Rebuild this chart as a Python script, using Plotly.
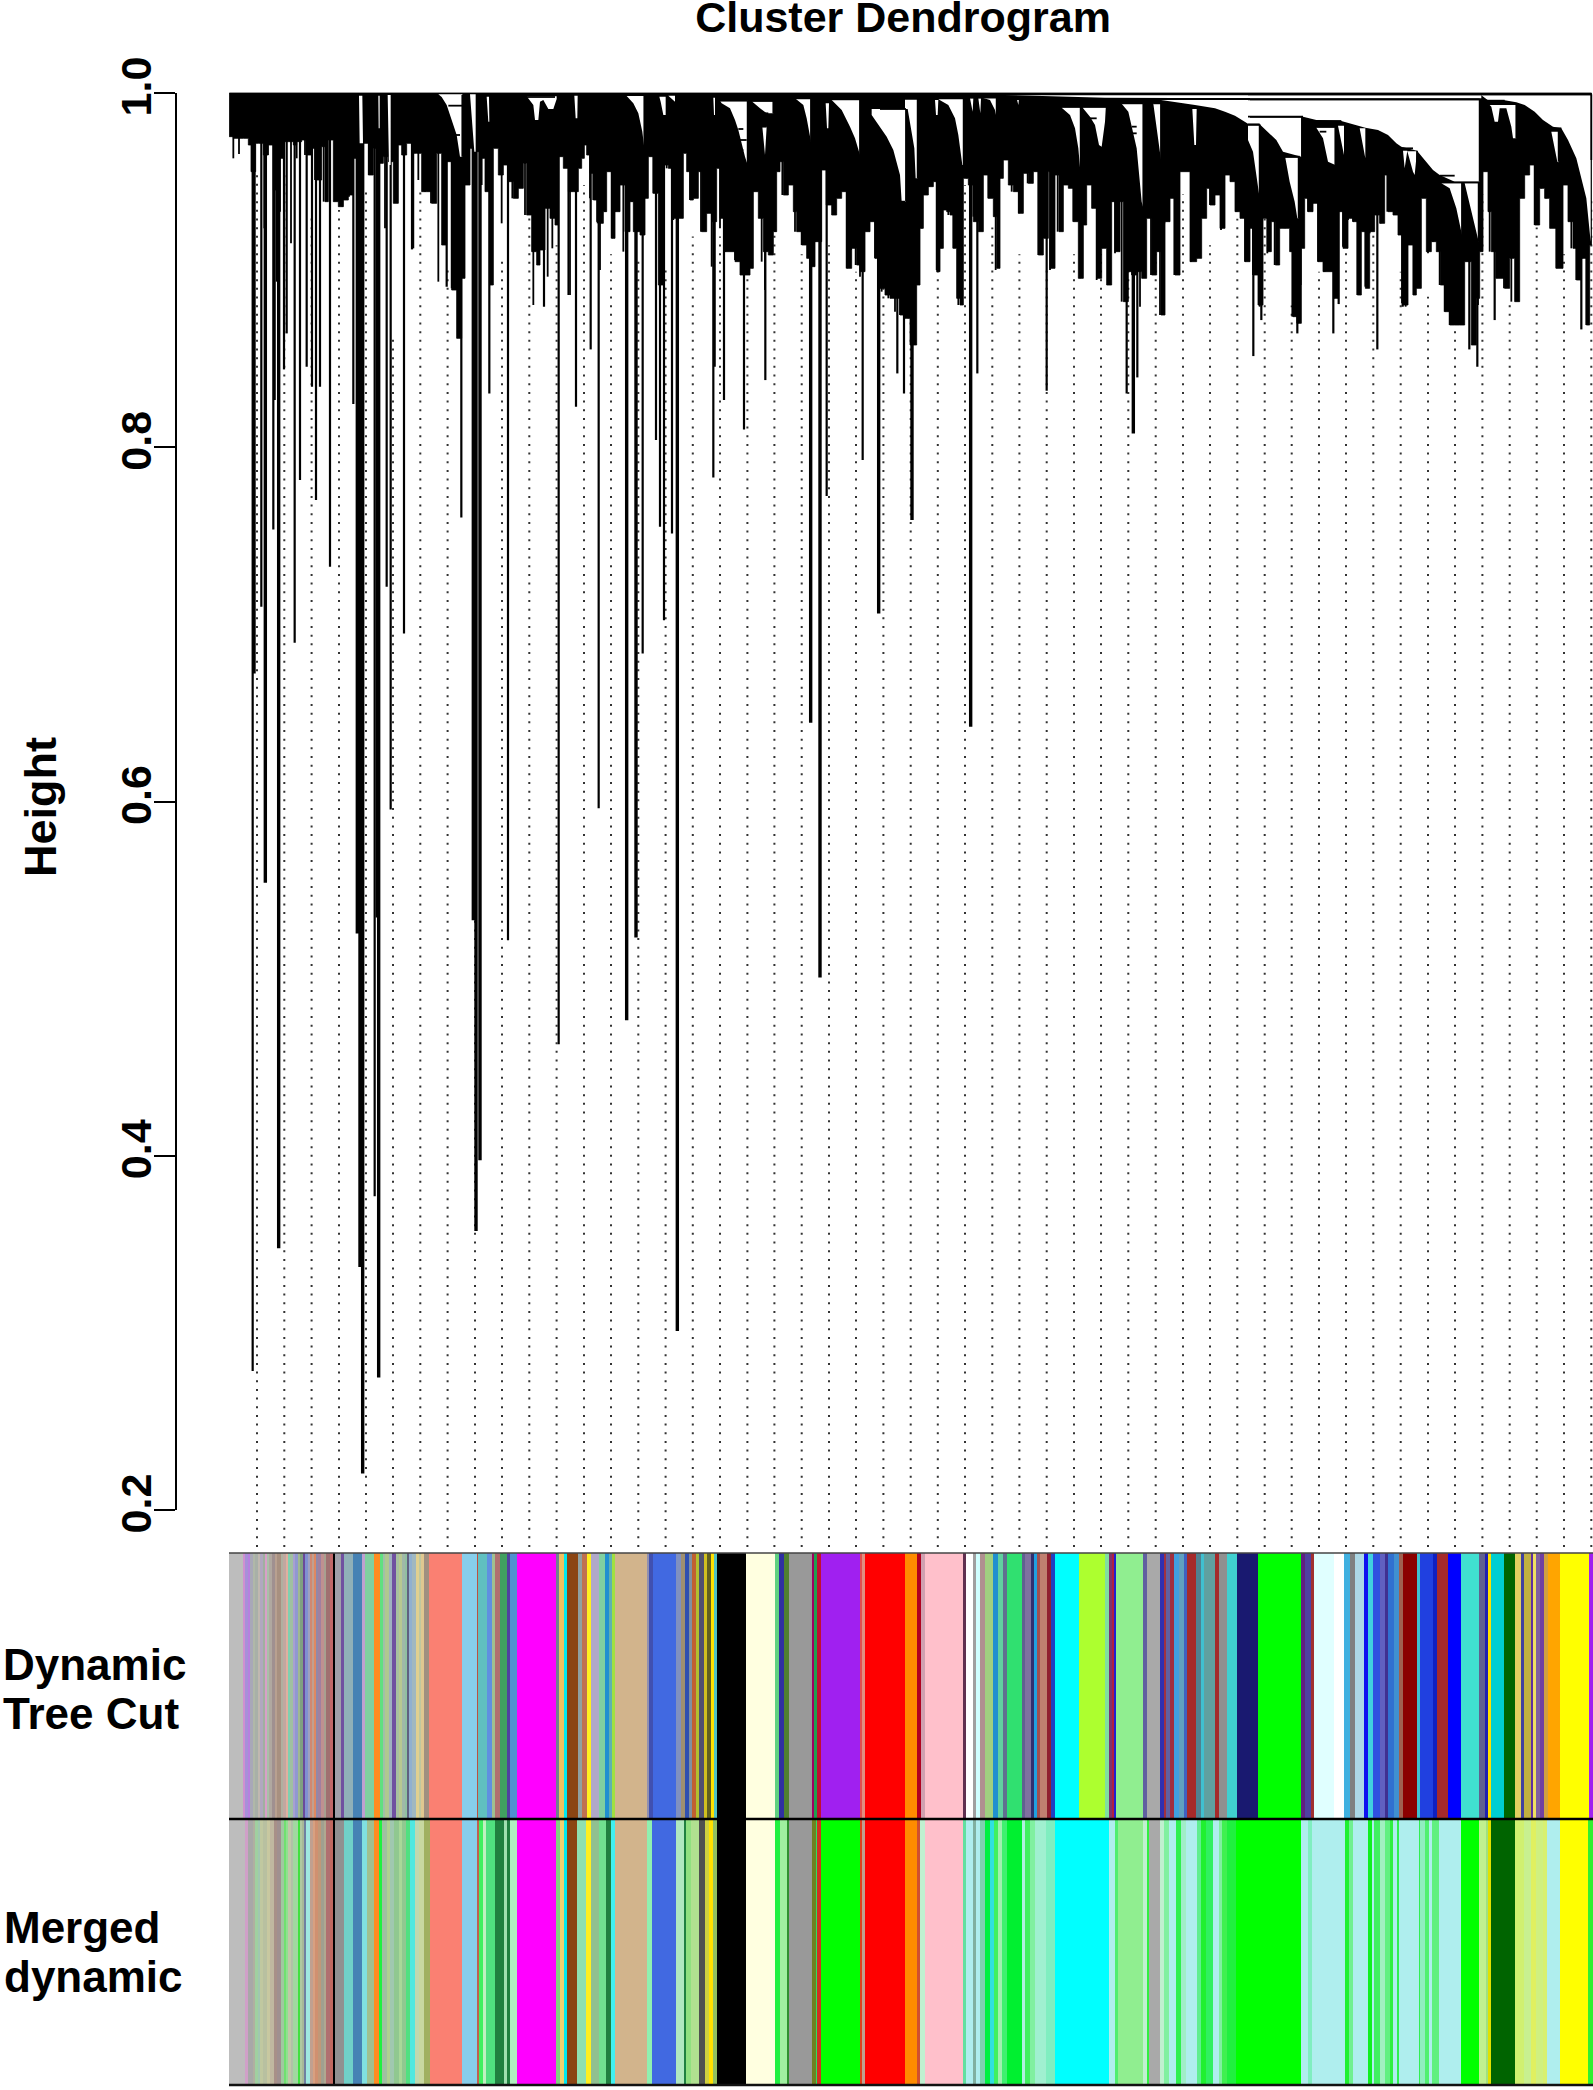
import plotly.graph_objects as go

# ---- axis values
tick_vals = [0.2, 0.4, 0.6, 0.8, 1.0]
tick_text = ["0.2", "0.4", "0.6", "0.8", "1.0"]
FONT = "Liberation Sans, Arial, sans-serif"

low_a_x = [13,25,40,55,70,78,92,100,115,130,145,160,175,190,205,215,230,245,260,275,290,300,310,325,340,355,370,385,395,410,430,445,460,475,490,505,520,530,545,560,575,590,605,620,635,650,665,680,695,710,720,735,750,765,780,795,805,820,835,850,865,880,895,905,920,935,945,960,975,990,1000,1015,1030]
low_a_y = [155,160,160,160,180,260,175,175,210,180,315,220,170,170,180,170,165,210,190,285,185,350,165,350,365,345,330,220,190,175,270,190,235,215,230,355,180,210,175,205,205,320,320,355,205,480,230,615,760,580,300,190,200,220,320,600,190,270,240,290,340,310,235,390,500,540,495,370,400,420,215,250,260]
low_b_x = [10,25,40,50,58,65,75,85,95,105,115,125,140,150,165,180,195,205,225,240,250,265,280,295,310,325,340,355,365,375,385,400,410,425,440,455,465,480,495,510,525,540,555,565,580,595,610,625,635,645,655,670,685,695,710,725,735,750,770,785,800,815,830,845,860,875,885,900,915,930,945,960,975,990,1005,1020]
low_b_y = [320,320,250,220,180,210,265,345,410,415,380,260,460,380,300,440,350,440,450,340,215,325,600,240,250,400,400,205,260,345,340,260,440,385,410,250,400,500,500,530,570,570,550,320,400,500,510,440,260,230,330,300,380,440,480,520,545,470,255,360,390,340,320,550,490,540,560,440,410,520,610,630,640,640,690,700]
low_c_x = [15,35,45,55,70,85,95,105,115,125,135,145,155,165,175,190,205,220,235,250,265,275,285,295,310,325,340,355,370,385,400,415,430,435,450,462,475,490,505,520,535,545,560,575,590,605,620,630,645,655,670,680,695,710,725,740,755,768,780,795,810,825,840,855,875,890,905,915,930,945,960,975,990,1005,1020]
low_c_y = [780,600,430,330,305,290,560,490,375,380,390,490,640,660,280,300,410,440,270,340,395,550,280,225,300,320,385,265,295,260,510,460,260,550,270,440,300,310,410,580,420,300,370,580,490,600,350,500,350,650,560,570,560,580,400,570,500,690,410,340,570,260,260,530,520,400,310,360,330,430,270,290,380,400,530]
low_d_x = [6,15,30,45,58,70,82,95,110,125,135,150,160,170,180,195,210,225,240,258,270,285,300,315,328,340,352,365,380,395,410,420,435,450,465,480,495,505,520,535,550,565,577,590,605,620,635,650,670,685,695,705,720,730,745,770,785,800,815,830,845,860,875,890,905,925,945,960,975,985,1000,1015,1025]
low_d_y = [430,570,660,400,500,410,540,430,430,500,695,715,490,340,380,355,530,560,560,640,380,490,400,410,630,440,610,440,390,415,270,380,390,450,660,480,630,610,340,500,470,500,600,680,720,720,720,530,780,640,500,260,380,500,580,610,520,650,340,270,240,420,310,340,430,550,300,410,490,585,520,720,480]
PANEL_A, PANEL_B, PANEL_C, PANEL_D = 225, 565, 905, 1248

# ---- short branches below the canopy (crop readings)
spike_a_x = [25,42,118,128,155,165,198,215,240,270,282,296,340,352,372,432,440,480,515,565,580,600,618,640,655,680,695,725,770,830,862,880,900,912,925,942,968,982,1030]
spike_a_y = [220,207,430,210,590,380,475,220,210,285,240,350,320,365,335,270,250,430,350,490,285,320,355,590,480,610,610,300,300,415,340,310,390,380,660,495,575,490,630]
spike_b_x = [15,45,75,85,98,105,120,140,150,175,190,202,215,240,265,305,325,375,385,408,425,440,465,480,510,565,590,600,615,630,652,670,690,710,735,750,785,805,820,845,858,872,885,895,930,950,970,990,1005,1030]
spike_b_y = [630,220,340,345,415,555,380,460,380,500,420,350,440,340,325,250,405,345,340,440,385,545,430,500,525,320,530,615,510,440,330,300,440,480,545,470,360,390,320,550,495,540,575,440,520,620,640,680,690,700]
spike_c_x = [50,60,72,95,108,118,130,145,160,185,205,228,250,272,285,320,342,355,368,400,412,435,458,505,525,538,575,590,610,622,630,650,665,682,705,738,765,778,790,808,858,875,895,915,948,995,1020]
spike_c_y = [430,330,305,555,490,375,390,490,660,280,395,435,340,555,280,320,385,265,295,510,460,555,440,410,580,420,585,490,600,350,505,650,560,570,665,570,690,415,340,570,530,520,355,360,435,380,530]
spike_d_x = [15,35,42,58,80,95,110,133,148,158,180,195,210,230,258,285,300,315,328,352,365,398,418,440,462,473,497,505,540,555,575,590,605,625,690,725,745,768,790,815,860,880,895,912,925,970,985,1003,1015,1022]
spike_d_y = [570,665,400,505,540,430,430,695,715,600,380,355,530,560,640,485,405,410,630,605,445,415,380,390,655,665,630,610,505,470,600,680,720,720,660,500,580,610,650,340,420,310,340,425,550,490,585,520,720,480]

# ---- long single branches: overview readings (x, bottom)
thick_x = [190.5,199,209,268,270,272,283,284,355,357,360,470,477,508,608,615,659,728,684,850]
thick_y = [505,662,936,700,950,1105,688,1033,690,923,870,765,703,998,542,733,460,545,390,325]
thin_x = [189.5,196,205,206,213,215,221,225,230,234,237,240,247.5,265,281,290,293,303,309,335,346,367,381,408,419,432,443,449,482,492,495,498,504,535,536,543,558,574,620,647,673,678,733,785,845,853,940,973,1004,1121,1000,1052,1033,946,1108,1102,1186]
thin_y = [1028,455,397,300,277,250,482,360,275,290,375,290,425,303,897,440,607,475,187,215,388,295,705,230,783,305,262,606,490,330,395,465,400,358,275,300,322,285,372,345,280,295,280,293,295,283,267,250,228,240,250,230,262,240,275,262,247]

# ---- guide lines: leaf position and the height each reaches
guide_x = [257,284.3,311.6,339,366,393,420.3,447.6,475,502,529.3,556.6,584,611,638.3,665.6,692.8,720,747.4,774.4,801.7,829,856,883.4,910.7,937.8,965,992.3,1019.4,1046.7,1074,1101,1128.3,1155.7,1183,1210,1237.3,1264.7,1291.7,1319,1346,1373.3,1400.7,1428,1455,1482.4,1509.7,1536.7,1564,1591.3]
guide_h = [.954,.954,.930,.934,.944,.863,.944,.90,.90,.905,.939,.914,.948,.909,.905,.90,.919,.919,.90,.944,.909,.914,.899,.929,.880,.919,.948,.924,.909,.90,.909,.909,.929,.909,.943,.914,.929,.929,.880,.899,.929,.924,.899,.885,.885,.943,.884,.924,.909,.940]

# ---- open spaces between sub-trees (crop readings)
gaps_a = [
 [(640,28),(712,28),(712,215),(705,215),(695,150),(685,120),(675,90),(665,60),(650,36)],
 [(402,32),(412,32),(414,175),(404,175)], [(460,32),(464,32),(464,130),(461,130)],
 [(488,30),(497,30),(497,240),(492,240)], [(735,28),(752,28),(752,200),(748,200)],
 [(785,35),(792,35),(793,110),(790,110)],
 [(905,34),(995,34),(995,42),(985,72),(970,72),(955,45),(945,50),(940,105),(930,105),(925,60)],
]
gaps_b = [
 [(28,32),(38,32),(37,100),(32,100)],
 [(185,33),(238,33),(238,190),(232,140),(220,85),(205,55)],
 [(283,35),(302,35),(302,90),(295,90),(287,50)], [(310,32),(330,32),(330,50)],
 [(445,38),(450,38),(450,90),(447,90)],
 [(465,47),(548,47),(548,240),(540,215),(520,135),(510,105),(495,70),(470,55)],
 [(562,50),(625,50),(625,85),(605,85),(585,70)], [(592,125),(605,125),(600,210)],
 [(690,40),(738,40),(738,170),(725,100),(715,60),(695,45)],
 [(782,55),(792,55),(790,130),(786,130)],
 [(800,45),(885,45),(885,210),(870,160),(855,125),(830,75)],
 [(920,72),(1023,72),(1023,350),(1010,350),(1005,270),(985,195),(965,155),(945,125),(920,90)],
]
gaps_c = [
 [(0,44),(38,44),(38,280),(32,280),(28,190),(18,130),(8,72),(0,72)],
 [(90,45),(100,45),(98,90),(93,90)],
 [(100,43),(176,43),(176,240),(172,240),(160,150),(150,100),(130,60)],
 [(195,40),(205,40),(203,80)], [(220,40),(228,40),(226,85)],
 [(232,38),(275,38),(275,100),(270,75),(255,45)], [(335,40),(342,40),(340,60)],
 [(470,68),(527,68),(527,270),(520,190),(510,130),(495,90)],
 [(533,68),(603,68),(600,110),(590,185),(582,180),(570,120),(555,95)],
 [(650,56),(715,56),(715,370),(710,350),(695,190),(680,120),(670,80)],
 [(745,56),(768,56),(768,225)], [(862,72),(875,72),(873,180),(868,180)],
 [(768,45),(1035,45),(1035,120),(1010,105),(990,92),(960,80),(930,70),(870,60)],
 [(300,30),(1035,30),(1035,40),(600,38)],
]
gaps_d = [
 [(0,31),(700,31),(700,40),(0,40)],
 [(0,46),(695,46),(695,290),(620,290),(575,270),(555,255),(530,225),(507,197),(460,185),(445,175),(420,150),(390,135),(352,128),(280,108),(205,105),(165,95),(0,95)],
 [(0,98),(160,98),(160,215),(105,200),(85,165),(60,140),(35,118),(0,118)],
 [(0,122),(35,122),(35,340),(25,270),(15,200),(0,165)],
 [(112,218),(152,218),(152,400),(148,400),(140,350),(125,290)],
 [(205,128),(262,128),(262,240),(240,230),(225,160),(210,135)],
 [(270,122),(288,122),(288,210)], [(335,130),(352,130),(352,220)],
 [(465,197),(478,197),(470,250)], [(478,199),(507,199),(500,270),(495,260)],
 [(580,295),(642,295),(642,450),(625,370),(605,310)],
 [(650,295),(692,295),(692,470),(680,420),(670,370),(652,300)],
 [(725,60),(805,60),(805,160),(795,160),(790,125),(775,70),(755,70),(750,110),(740,110),(730,65)],
 [(700,31),(1028,31),(1028,470),(1015,340),(1000,280),(985,220),(960,165),(940,130),(915,125),(885,105),(860,80),(830,60),(805,52),(770,46),(720,46)],
 [(910,140),(932,140),(932,232),(928,230)],
]

# ---- merges: horizontal (x0, x1, level) and vertical (x, level0, level1)
joins_a_h = [(670,712,62),(690,705,150),(900,990,36)]
joins_a_v = [(712,30,215)]
joins_b_h = [(465,630,37),(465,548,47),(562,625,47),(690,738,40),(800,885,43),(885,940,65),(945,1023,72),(1005,1020,350),(520,535,132),(520,545,165),(520,535,195),(585,610,85),(585,615,100),(590,605,125)]
joins_b_v = [(238,33,190),(548,47,240),(625,47,85),(738,40,170),(885,45,210),(1023,72,350)]
joins_c_h = [(0,300,38),(300,1035,28),(300,1035,42),(460,605,65),(650,715,55),(745,770,55),(680,695,125),(680,695,145),(555,575,100)]
joins_c_v = [(38,40,280),(176,40,240),(275,38,100),(527,65,270),(605,65,190),(715,55,370),(768,55,225)]
joins_d_h = [(0,695,43),(0,1030,28),(0,165,95),(0,35,118),(110,155,215),(205,280,108),(205,260,125),(215,235,140),(465,495,190),(575,620,272),(575,695,292),(700,770,47),(725,805,57),(915,940,130)]
joins_d_v = [(1030,28,225),(695,43,290),(162,95,215),(35,118,340),(152,215,400),(262,125,240),(507,197,270),(642,292,450),(692,292,470),(805,57,160),(932,130,230)]

# ---- colour strips: (segment end, colour) per strip, three crops
dyn_a = [(720,"#bdbdbd"),(726,"#d090d0"),(733,"#a890d8"),(740,"#b87fe0"),(748,"#a8a8b8"),(755,"#b0b8a8"),(762,"#a8b0a8"),(770,"#c0b8b0"),(778,"#b0a8c0"),(785,"#a0b0a0"),(790,"#d8a0c8"),(797,"#a8c0a8"),(805,"#b0a8a0"),(812,"#a09090"),(820,"#b8a090"),(830,"#a89080"),(838,"#b0b0a0"),(845,"#c0a8a0"),(852,"#e0b0a0"),(858,"#80d0b0"),(868,"#a0c0a0"),(874,"#a8a0d0"),(880,"#9098d0"),(888,"#a0b890"),(895,"#80a080"),(902,"#6a4a9a"),(910,"#8090d0"),(917,"#a0a0c0"),(922,"#d08870"),(928,"#c0a090"),(935,"#e08860"),(942,"#9088a8"),(950,"#a080a0"),(958,"#c09090"),(965,"#a8a090"),(975,"#a07070"),(985,"#c06868"),(992,"#000000"),(1010,"#a0a0a8"),(1018,"#7050a0"),(1045,"#90b0b8"),(1072,"#4682b4"),(1080,"#c0a0d0"),(1105,"#80d0a0"),(1125,"#ff8c20"),(1132,"#60e080"),(1140,"#a0c0a8"),(1150,"#b0c890"),(1160,"#a0b0c0"),(1170,"#7050a0"),(1180,"#a8c0a0"),(1190,"#b8c890"),(1198,"#a0b8a8"),(1205,"#90c0a0"),(1210,"#606080"),(1220,"#90b0d0"),(1230,"#a0b8c0"),(1238,"#e0d090"),(1245,"#c0c8a0"),(1255,"#e0c890"),(1270,"#a09080"),(1368,"#fa8072"),(1410,"#87ceeb"),(1415,"#c05040"),(1440,"#60c0c0"),(1455,"#6090e0"),(1465,"#a0c090"),(1480,"#b07070"),(1500,"#40a060"),(1508,"#5040a0"),(1530,"#5090d0"),(1568,"#ff00ff")]
dyn_b = [(78,"#ff00ff"),(85,"#708090"),(100,"#f0c060"),(108,"#00e8f0"),(142,"#8b4513"),(155,"#90a0a0"),(168,"#c07050"),(180,"#ffef20"),(205,"#b0a8c8"),(222,"#80d0a0"),(235,"#2090d0"),(242,"#60b0b0"),(250,"#a0e040"),(345,"#d2b48c"),(352,"#9090b0"),(363,"#4050b0"),(432,"#4169e1"),(448,"#8090c0"),(458,"#a09070"),(470,"#3050b0"),(478,"#8090a0"),(490,"#c06030"),(500,"#b0c030"),(515,"#505070"),(525,"#d0c020"),(535,"#606020"),(543,"#ffe000"),(552,"#50c0c0"),(640,"#000000"),(725,"#ffffe0"),(738,"#60d080"),(750,"#3030a0"),(765,"#508030"),(833,"#999999"),(840,"#a00060"),(848,"#20a050"),(860,"#c01030"),(975,"#a020f0"),(983,"#e05050"),(990,"#e09080"),(1108,"#ff0000"),(1145,"#ff8c00"),(1158,"#b00020"),(1168,"#d0a0b0"),(1282,"#ffc0cb"),(1290,"#603050"),(1310,"#ffffff"),(1318,"#a0a0a0"),(1332,"#d0ffff"),(1345,"#b09090"),(1370,"#a0d080"),(1385,"#2090d0"),(1400,"#60d0a0"),(1412,"#607090"),(1455,"#30e070"),(1465,"#606090"),(1483,"#8070a0"),(1490,"#303070"),(1500,"#20a0e0"),(1510,"#a05050"),(1528,"#c08070"),(1540,"#902030"),(1552,"#2040c0"),(1568,"#00ffff")]
dyn_c = [(56,"#00ffff"),(132,"#adff2f"),(145,"#80e0a0"),(152,"#803070"),(158,"#b02040"),(165,"#2020d0"),(245,"#90ee90"),(255,"#6060a0"),(295,"#a9a9a9"),(305,"#3030b0"),(312,"#a03040"),(325,"#6060a0"),(335,"#a03040"),(350,"#40a0e0"),(365,"#60a0c0"),(375,"#4060c0"),(400,"#a52a2a"),(415,"#508090"),(425,"#40c0d0"),(455,"#60a0a0"),(468,"#a52a2a"),(490,"#909090"),(520,"#40d0d0"),(583,"#191970"),(708,"#00ff00"),(722,"#602080"),(738,"#5040a0"),(748,"#a03030"),(805,"#e0ffff"),(835,"#ffffff"),(852,"#40b0e0"),(868,"#808080"),(895,"#add8e6"),(905,"#1010f0"),(920,"#40d0e0"),(940,"#3050e0"),(955,"#6060c0"),(965,"#403090"),(982,"#3070d0"),(996,"#4090d0"),(1010,"#a06050"),(1050,"#8b0000"),(1060,"#40c0d0"),(1098,"#2040e0"),(1108,"#1020c0"),(1142,"#a52a2a"),(1180,"#0000ff"),(1232,"#40e0d0"),(1250,"#606090"),(1258,"#2020b0"),(1268,"#ffe000"),(1305,"#00ced1"),(1340,"#006400"),(1355,"#e0d060"),(1365,"#4040a0"),(1385,"#c0b040"),(1392,"#6030a0"),(1400,"#f0e060"),(1412,"#8060a0"),(1425,"#7040a0"),(1435,"#d0a040"),(1470,"#ffa500"),(1555,"#ffff00"),(1568,"#a020f0")]
mrg_a = [(725,"#bdbdbd"),(735,"#d0a0c8"),(748,"#a8a8a8"),(755,"#b0b0a0"),(762,"#a0d0a0"),(770,"#a0c8b0"),(778,"#c0c8a0"),(790,"#b8c0a0"),(800,"#c8c8a0"),(810,"#c0b8a0"),(820,"#a89088"),(830,"#a09090"),(840,"#a0c8a0"),(846,"#70e070"),(852,"#90e090"),(860,"#c0c8a8"),(868,"#b0c0a8"),(880,"#a0d8a0"),(888,"#40e040"),(894,"#b0c8a0"),(900,"#a8b898"),(905,"#7080a0"),(918,"#a0e8e0"),(925,"#c0a090"),(932,"#d8a080"),(942,"#d09070"),(950,"#c09878"),(958,"#a0a090"),(965,"#b0a890"),(975,"#b07070"),(985,"#c06860"),(992,"#000000"),(1018,"#909090"),(1045,"#70d0c8"),(1072,"#4682b4"),(1085,"#80e0e0"),(1105,"#a0c090"),(1122,"#ff8c20"),(1130,"#20f040"),(1145,"#a0c0a0"),(1155,"#b0d090"),(1165,"#a0c8b0"),(1180,"#90c890"),(1190,"#a8d898"),(1200,"#90c890"),(1212,"#50e080"),(1228,"#50e8e0"),(1240,"#c0d8b0"),(1255,"#c8d8a0"),(1272,"#a0b060"),(1368,"#fa8072"),(1410,"#87ceeb"),(1418,"#c06050"),(1430,"#40f060"),(1437,"#c0f0c0"),(1465,"#50e080"),(1490,"#208040"),(1500,"#a0e0b0"),(1510,"#208040"),(1530,"#b0f0c0"),(1568,"#ff00ff")]
mrg_b = [(78,"#ff00ff"),(88,"#80d080"),(100,"#f0d070"),(108,"#00e8f0"),(140,"#8b4513"),(165,"#90e0b0"),(180,"#ffef20"),(205,"#90c090"),(225,"#70e090"),(240,"#208040"),(250,"#40f0f0"),(345,"#d2b48c"),(362,"#90f0b0"),(432,"#4169e1"),(455,"#b0e8c0"),(462,"#208040"),(475,"#90e080"),(500,"#b0e090"),(518,"#505050"),(530,"#d0d040"),(540,"#ffe000"),(552,"#90c060"),(640,"#000000"),(725,"#ffffe0"),(740,"#20f040"),(760,"#a0f0a0"),(765,"#309030"),(833,"#999999"),(845,"#708020"),(850,"#30e060"),(860,"#d03020"),(975,"#00ff00"),(982,"#e04020"),(990,"#c0a090"),(1108,"#ff0000"),(1145,"#ff8c00"),(1155,"#d05030"),(1168,"#c0f0d0"),(1282,"#ffc0cb"),(1290,"#60e0a0"),(1310,"#afeeee"),(1318,"#80b0a0"),(1332,"#afeeee"),(1345,"#80d0b0"),(1360,"#00f040"),(1372,"#30e0e0"),(1385,"#40f060"),(1395,"#a0f0b0"),(1412,"#40f070"),(1455,"#00f030"),(1465,"#b0f0e0"),(1480,"#40f060"),(1495,"#80f0a0"),(1525,"#a0f0d0"),(1552,"#80eec0"),(1568,"#00ffff")]
mrg_c = [(145,"#00ffff"),(163,"#b0eeee"),(170,"#50ee70"),(245,"#90ee90"),(255,"#c0f0d0"),(262,"#30f040"),(295,"#a9a9a9"),(305,"#c0f0d0"),(320,"#80f0a0"),(340,"#b0eeee"),(357,"#30f050"),(370,"#a0eec8"),(403,"#afeeee"),(415,"#60ee90"),(430,"#20f030"),(450,"#30f060"),(468,"#afeeee"),(478,"#80f0a0"),(490,"#40f050"),(518,"#20f040"),(708,"#00ff00"),(730,"#afeeee"),(742,"#80eec0"),(838,"#afeeee"),(850,"#20f030"),(862,"#70f090"),(905,"#afeeee"),(918,"#10f020"),(925,"#afeeee"),(940,"#40f060"),(955,"#a0f0c0"),(970,"#60f080"),(980,"#30f040"),(990,"#afeeee"),(998,"#30f050"),(1055,"#afeeee"),(1060,"#30f050"),(1075,"#90eec0"),(1085,"#50f070"),(1095,"#afeeee"),(1115,"#60f080"),(1180,"#afeeee"),(1232,"#00ff00"),(1252,"#c0f090"),(1258,"#a0e080"),(1268,"#e0e000"),(1340,"#006400"),(1365,"#d0f070"),(1385,"#c8f090"),(1400,"#e0f060"),(1420,"#d0f080"),(1432,"#d8f070"),(1470,"#afeeee"),(1552,"#ffff00"),(1568,"#30f030")]


def hgt(zy):
    return 1 - (zy - 24) / 5313.0

def ovx(v):
    return v * 4 / 3

def ovh(v):
    return 1.0525 - v * 0.000753

# canopy outline
canopy_x, canopy_h = [], []
for off, xs, ys in [(PANEL_A, low_a_x, low_a_y), (PANEL_B, low_b_x, low_b_y),
                    (PANEL_C, low_c_x, low_c_y), (PANEL_D, low_d_x, low_d_y)]:
    canopy_x += [off + v / 3 for v in xs]
    canopy_h += [hgt(v) for v in ys]
canopy_x = [canopy_x[0]] + canopy_x + [1591.5, 1591.5, canopy_x[0]]
canopy_h = [1.0] + canopy_h + [canopy_h[-1], 1.0, 1.0]

fig = go.Figure()

# axis holder
fig.add_trace(go.Scatter(x=[229], y=[1.0], mode="markers", marker=dict(size=1, opacity=0),
                         hoverinfo="skip", showlegend=False))

# guides
gx, gy = [], []
for x, h in zip(guide_x, guide_h):
    gx += [x, x, None]
    gy += [0.179, h, None]
fig.add_trace(go.Scatter(x=gx, y=gy, yaxis="y2", mode="lines", hoverinfo="skip", showlegend=False,
                         line=dict(color="#333333", width=2, dash="2px,6.67px")))
# canopy
fig.add_trace(go.Scatter(x=canopy_x, y=canopy_h, yaxis="y2", mode="lines", fill="toself", fillcolor="#000000",
                         hoverinfo="skip", showlegend=False,
                         line=dict(color="#000000", width=0.8, shape="hv")))
# short branches
sx, sy = [], []
for off, xs, ys in [(PANEL_A, spike_a_x, spike_a_y), (PANEL_B, spike_b_x, spike_b_y),
                    (PANEL_C, spike_c_x, spike_c_y), (PANEL_D, spike_d_x, spike_d_y)]:
    for x, y in zip(xs, ys):
        sx += [off + x / 3, off + x / 3, None]
        sy += [0.985, hgt(y), None]
fig.add_trace(go.Scatter(x=sx, y=sy, yaxis="y2", mode="lines", hoverinfo="skip", showlegend=False,
                         line=dict(color="#000000", width=1.8)))
# long branches
for xs, ys, w in [(thin_x, thin_y, 2.2), (thick_x, thick_y, 3.4)]:
    bx, by = [], []
    for x, y in zip(xs, ys):
        bx += [ovx(x), ovx(x), None]
        by += [0.98, ovh(y), None]
    fig.add_trace(go.Scatter(x=bx, y=by, yaxis="y2", mode="lines", hoverinfo="skip", showlegend=False,
                             line=dict(color="#000000", width=w)))
# gaps
wx, wy = [], []
for off, gaps in [(PANEL_A, gaps_a), (PANEL_B, gaps_b), (PANEL_C, gaps_c), (PANEL_D, gaps_d)]:
    for poly in gaps:
        for px, py in list(poly) + [poly[0]]:
            wx.append(off + px / 3)
            wy.append(hgt(py))
        wx.append(None)
        wy.append(None)
fig.add_trace(go.Scatter(x=wx, y=wy, yaxis="y2", mode="lines", fill="toself", fillcolor="#ffffff",
                         hoverinfo="skip", showlegend=False, line=dict(color="#ffffff", width=0)))
# joins
jx, jy = [], []
for off, hs, vs in [(PANEL_A, joins_a_h, joins_a_v), (PANEL_B, joins_b_h, joins_b_v),
                    (PANEL_C, joins_c_h, joins_c_v), (PANEL_D, joins_d_h, joins_d_v)]:
    for a, b, lv in hs:
        jx += [off + a / 3, off + b / 3, None]
        jy += [hgt(lv), hgt(lv), None]
    for a, l0, l1 in vs:
        jx += [off + a / 3, off + a / 3, None]
        jy += [hgt(l0), hgt(l1), None]
fig.add_trace(go.Scatter(x=jx, y=jy, yaxis="y2", mode="lines", hoverinfo="skip", showlegend=False,
                         line=dict(color="#000000", width=1.8)))


def strip(a, b, c, yaxis):
    edges = [229.0]
    colors = []
    for off, scale, segs in [(0, 2.958, a), (530, 2.958, b), (1060, 2.942, c)]:
        for end, col in segs:
            edges.append(off + end / scale)
            colors.append(col)
    edges[-1] = 1593.0
    n = len(colors)
    cs = []
    for i, col in enumerate(colors):
        cs += [[i / n, col], [(i + 1) / n, col]]
    fig.add_trace(go.Heatmap(x=edges, z=[list(range(n))], y=[0], yaxis=yaxis, colorscale=cs,
                             zmin=-0.5, zmax=n - 0.5, showscale=False, hoverinfo="skip"))


strip(dyn_a, dyn_b, dyn_c, "y3")
strip(mrg_a, mrg_b, mrg_c, "y4")

H = 2090.0
W = 1593.0
def pa(py):
    return (H - py) / H

notes = [("Dynamic", 1, 1664), ("Tree Cut", 1, 1713), ("Merged", 2, 1927), ("dynamic", 2, 1976)]
annotations = [dict(text="<b>%s</b>" % t, x=x / W, y=pa(y), xref="paper", yref="paper",
                    xanchor="left", yanchor="middle", showarrow=False,
                    font=dict(family=FONT, size=44, color="#000000"))
               for t, x, y in notes]
annotations.append(dict(text="<b>Height</b>", x=40 / W, y=pa(807), xref="paper", yref="paper",
                        xanchor="center", yanchor="middle", textangle=-90, showarrow=False,
                        font=dict(family=FONT, size=45, color="#000000")))

fig.update_layout(
    width=1593, height=2090, margin=dict(l=0, r=0, t=0, b=0, autoexpand=False),
    paper_bgcolor="#ffffff", plot_bgcolor="#ffffff", showlegend=False,
    title=dict(text="<b>Cluster Dendrogram</b>", x=903 / W, y=pa(17), xref="container", yref="container",
               xanchor="center", yanchor="middle", automargin=False,
               font=dict(family=FONT, size=43, color="#000000")),
    annotations=annotations,
    xaxis=dict(domain=[229 / W, 1], range=[229, 1593], visible=False, fixedrange=True),
    yaxis=dict(domain=[pa(1510), pa(93)], range=[0.2, 1.0], anchor="free", position=176 / W,
               tickmode="array", tickvals=tick_vals, ticktext=tick_text, tickangle=-90,
               ticks="outside", ticklen=21, tickwidth=2, tickcolor="#000000", ticklabelstandoff=-14,
               showline=True, linewidth=2, linecolor="#000000", showgrid=False, zeroline=False,
               tickfont=dict(family=FONT, size=43, color="#000000", weight="bold")),
    yaxis2=dict(domain=[pa(1553), pa(91)], range=[1 - 1460 / 1771.0, 1 + 2 / 1771.0], visible=False, anchor="x"),
    yaxis3=dict(domain=[pa(1819), pa(1553)], range=[-0.5, 0.5], visible=False, anchor="x"),
    yaxis4=dict(domain=[pa(2085), pa(1819)], range=[-0.5, 0.5], visible=False, anchor="x"),
    shapes=[dict(type="line", xref="paper", yref="paper", x0=229 / W, x1=1, y0=pa(py), y1=pa(py),
                 line=dict(color=c, width=w), layer="above")
            for py, c, w in [(1553, "#444444", 1.5), (1819, "#000000", 2.5), (2085, "#111111", 2.5)]],
)

fig.write_html("out.html", config={"displayModeBar": False},
               post_script="document.body.style.margin='0';")
